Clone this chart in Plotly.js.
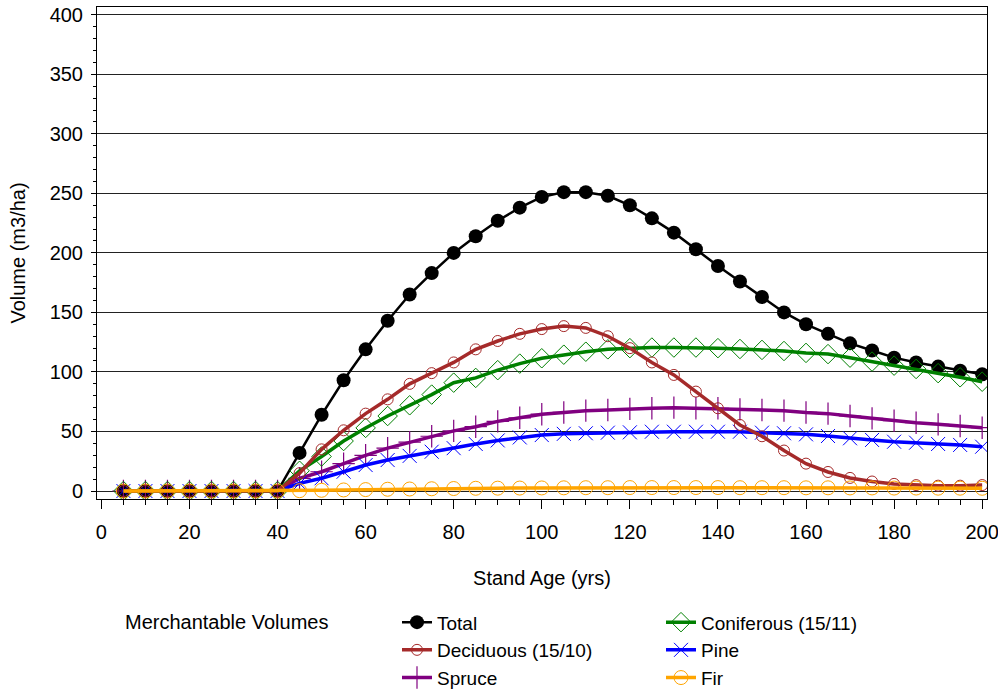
<!DOCTYPE html>
<html>
<head>
<meta charset="utf-8">
<script src="https://cdn.plot.ly/plotly-3.0.1.min.js"></script>
<style>html,body{margin:0;padding:0;background:#fff;}#chart{width:998px;height:689px;}</style>
</head>
<body>
<div id="chart"></div>
<script>
const ages = [5,10,15,20,25,30,35,40,45,50,55,60,65,70,75,80,85,90,95,100,105,110,115,120,125,130,135,140,145,150,155,160,165,170,175,180,185,190,195,200];
const total = [0,0,0,0,0,0,0,0, 32,64,93,119,143,165,183,200, 214,227,238,247,251,251,248,240, 229,217,203,189,176,163,150,140, 132,124,118,112,108,104.5,101,98];
const deciduous = [0,0,0,0,0,0,0,0, 15,35,51,65,77,90,99,108, 119,126,132,136,138.5,137,130,120, 108,97.5,83.5,69.5,55.5,46,34,23, 16,11,8,6,5,4.5,4.5,5];
const coniferous = [0,0,0,0,0,0,0,0, 17,29,42,53,63,72,81,91, 95,101.5,107,111.5,114.5,117,119,120, 120.5,120.5,120.5,120,119.3,118.5,117.6,116, 115,112,108.7,105.3,102.5,99,95.5,91.8];
const spruce = [0,0,0,0,0,0,0,0, 10.7,16.2,23,30,36,41,46,50.5, 54,58.5,61.5,64.5,66,67.5,68,69, 69.5,70,69.5,69.5,68.6,68,67.5,66, 65,63,61,59,57.4,56,54.6,53.2];
const pine = [0,0,0,0,0,0,0,0, 6.4,10.7,16.2,21.8,26,29.5,33,36, 39.5,42.5,45,47,48,48.5,49,49.3, 49.8,49.8,49.8,49.8,49.8,49,48.5,47.6, 46.2,44.3,42.9,41.4,40.6,39.5,38.7,37.2];
const fir = [0,0,0,0,0,0,0,0, 0.3,0.6,0.9,1.2,1.5,1.7,1.9,2.1, 2.3,2.4,2.5,2.6,2.7,2.8,2.8,2.9, 2.9,2.9,2.9,2.9,2.8,2.8,2.8,2.7, 2.7,2.6,2.6,2.5,2.5,2.4,2.4,2.3];

const seriesNames = ['Total','Deciduous (15/10)','Spruce','Coniferous (15/11)','Pine','Fir'];
const legendTitle = 'Merchantable Volumes';
const xTitle = 'Stand Age (yrs)';
const yTitle = 'Volume (m3/ha)';

const FONT = 'Liberation Sans, Arial, sans-serif';
const FS = 20;
const LFS = 19;

function tr(y, name, color, lw, sym, msize, mlw, rank, leg) {
  return {
    x: ages, y: y, name: name, type: 'scatter', mode: 'lines+markers',
    line: {color: color, width: lw},
    marker: {symbol: sym, size: msize, color: color, line: {color: color, width: mlw}},
    legendrank: rank, legend: leg
  };
}

const data = [
  tr(total, seriesNames[0], '#000000', 2.5, 'circle', 14, 0, 1, 'legend'),
  tr(spruce, seriesNames[2], '#800080', 3.5, 'cross-thin-open', 16, 1.2, 3, 'legend'),
  tr(pine, seriesNames[4], '#0000FF', 3.5, 'x-thin-open', 14, 1, 2, 'legend2'),
  tr(coniferous, seriesNames[3], '#008000', 3.5, 'diamond-open', 15, 1, 1, 'legend2'),
  tr(deciduous, seriesNames[1], '#A52A2A', 3.5, 'circle-open', 11, 1, 2, 'legend'),
  tr(fir, seriesNames[5], '#FFA500', 3.5, 'circle-open', 14, 1, 3, 'legend2')
];

const legendCommon = {
  orientation: 'v', xanchor: 'left', y: -0.212, yanchor: 'top',
  font: {family: FONT, size: LFS, color: '#000'},
  itemwidth: 30, tracegroupgap: 0, bgcolor: 'rgba(0,0,0,0)', borderwidth: 0
};

const layout = {
  width: 998, height: 689,
  margin: {l: 97, r: 11, t: 7, b: 190, autoexpand: false},
  paper_bgcolor: '#ffffff', plot_bgcolor: '#ffffff',
  font: {family: FONT, size: FS, color: '#000'},
  showlegend: true,
  xaxis: {
    range: [-1.0, 201.1], tick0: 0, dtick: 20,
    ticks: 'outside', ticklen: 9, tickwidth: 1, tickcolor: '#000',
    minor: {dtick: 5, ticks: 'outside', ticklen: 5, tickcolor: '#000', showgrid: false},
    showline: true, linecolor: '#000', linewidth: 1, mirror: true,
    showgrid: false, zeroline: false, automargin: false,
    ticklabelstandoff: 6, ticklabeloverflow: 'allow',
    tickfont: {family: FONT, size: FS, color: '#000'},
    title: {text: xTitle, font: {family: FONT, size: FS, color: '#000'}, standoff: 28}
  },
  yaxis: {
    range: [-6.7, 406.5], tick0: 0, dtick: 50,
    ticks: 'outside', ticklen: 5, tickwidth: 1, tickcolor: '#000',
    minor: {dtick: 10, ticks: 'outside', ticklen: 3, tickcolor: '#000', showgrid: false},
    showline: true, linecolor: '#000', linewidth: 1, mirror: true,
    showgrid: true, gridcolor: '#222', gridwidth: 1, zeroline: false, automargin: false,
    ticklabelstandoff: 4, ticklabeloverflow: 'allow',
    tickfont: {family: FONT, size: FS, color: '#000'},
    title: {text: yTitle, font: {family: FONT, size: FS, color: '#000'}, standoff: 18}
  },
  legend: Object.assign({}, legendCommon, {x: (397 - 97) / 890}),
  legend2: Object.assign({}, legendCommon, {x: (661 - 97) / 890}),
  annotations: [{
    text: legendTitle, xref: 'paper', yref: 'paper',
    x: (123 - 97) / 890, xanchor: 'left',
    y: (499 - 622) / 492, yanchor: 'middle',
    showarrow: false, font: {family: FONT, size: FS, color: '#000'}
  }]
};

Plotly.newPlot('chart', data, layout, {staticPlot: true, displayModeBar: false});
</script>
</body>
</html>
